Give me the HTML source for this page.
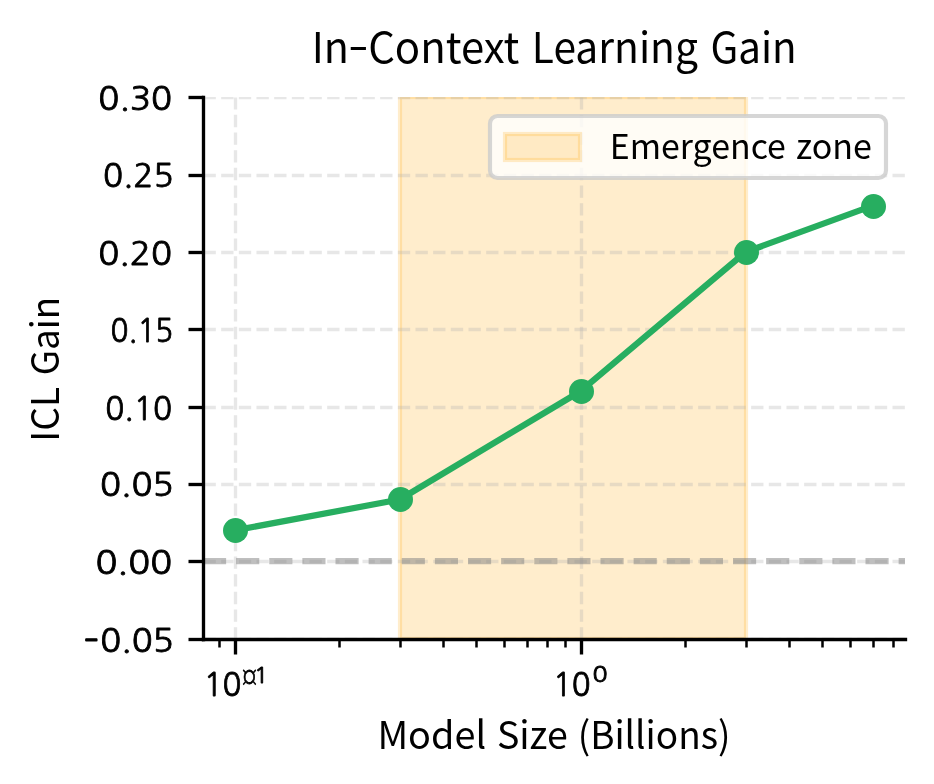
<!DOCTYPE html>
<html><head><meta charset="utf-8"><title>In-Context Learning Gain</title>
<style>html,body{margin:0;padding:0;background:#fff;}svg{display:block;}</style></head>
<body>
<svg width="934" height="784" viewBox="0 0 934 784">
<rect width="934" height="784" fill="#ffffff"/>
<defs><clipPath id="ax"><rect x="203" y="97" width="702" height="542"/></clipPath></defs>
<g clip-path="url(#ax)"><rect x="400" y="97" width="346" height="542" fill="#ffa500" fill-opacity="0.2" stroke="#ffa500" stroke-opacity="0.2" stroke-width="4.1667"/></g>
<g clip-path="url(#ax)">
<line x1="203.5" y1="97.5" x2="905.5" y2="97.5" stroke="#b0b0b0" stroke-opacity="0.3" stroke-width="3.3333" stroke-dasharray="12.333 5.333"/>
<line x1="203.5" y1="175.5" x2="905.5" y2="175.5" stroke="#b0b0b0" stroke-opacity="0.3" stroke-width="3.3333" stroke-dasharray="12.333 5.333"/>
<line x1="203.5" y1="252.5" x2="905.5" y2="252.5" stroke="#b0b0b0" stroke-opacity="0.3" stroke-width="3.3333" stroke-dasharray="12.333 5.333"/>
<line x1="203.5" y1="329.5" x2="905.5" y2="329.5" stroke="#b0b0b0" stroke-opacity="0.3" stroke-width="3.3333" stroke-dasharray="12.333 5.333"/>
<line x1="203.5" y1="407.5" x2="905.5" y2="407.5" stroke="#b0b0b0" stroke-opacity="0.3" stroke-width="3.3333" stroke-dasharray="12.333 5.333"/>
<line x1="203.5" y1="484.5" x2="905.5" y2="484.5" stroke="#b0b0b0" stroke-opacity="0.3" stroke-width="3.3333" stroke-dasharray="12.333 5.333"/>
<line x1="203.5" y1="561.5" x2="905.5" y2="561.5" stroke="#b0b0b0" stroke-opacity="0.3" stroke-width="3.3333" stroke-dasharray="12.333 5.333"/>
<line x1="203.5" y1="639.5" x2="905.5" y2="639.5" stroke="#b0b0b0" stroke-opacity="0.3" stroke-width="3.3333" stroke-dasharray="12.333 5.333"/>
<line x1="235.5" y1="639.5" x2="235.5" y2="97.5" stroke="#b0b0b0" stroke-opacity="0.3" stroke-width="3.3333" stroke-dasharray="12.333 5.333"/>
<line x1="581.5" y1="639.5" x2="581.5" y2="97.5" stroke="#b0b0b0" stroke-opacity="0.3" stroke-width="3.3333" stroke-dasharray="12.333 5.333"/>
<line x1="203" y1="561" x2="905" y2="561" stroke="#808080" stroke-opacity="0.5" stroke-width="6.25" stroke-dasharray="23.125 10"/>
</g>
<polyline points="234.66,530.40 399.70,499.47 580.57,391.20 745.61,252.01 872.90,205.61" fill="none" stroke="#27ae60" stroke-width="6.25" stroke-linejoin="round" stroke-linecap="butt"/>
<circle cx="235.5" cy="530.5" r="12.5" fill="#27ae60"/>
<circle cx="400.5" cy="499.5" r="12.5" fill="#27ae60"/>
<circle cx="581.5" cy="391.5" r="12.5" fill="#27ae60"/>
<circle cx="746.5" cy="252.5" r="12.5" fill="#27ae60"/>
<circle cx="873.5" cy="206.5" r="12.5" fill="#27ae60"/>
<line x1="203.5" y1="97.5" x2="203.5" y2="639.5" stroke="#000" stroke-width="3.3333" stroke-linecap="square"/>
<line x1="203.5" y1="639.5" x2="905.5" y2="639.5" stroke="#000" stroke-width="3.3333" stroke-linecap="square"/>
<line x1="188.5" y1="97.5" x2="203.5" y2="97.5" stroke="#000" stroke-width="3.3333"/>
<line x1="188.5" y1="175.5" x2="203.5" y2="175.5" stroke="#000" stroke-width="3.3333"/>
<line x1="188.5" y1="252.5" x2="203.5" y2="252.5" stroke="#000" stroke-width="3.3333"/>
<line x1="188.5" y1="329.5" x2="203.5" y2="329.5" stroke="#000" stroke-width="3.3333"/>
<line x1="188.5" y1="407.5" x2="203.5" y2="407.5" stroke="#000" stroke-width="3.3333"/>
<line x1="188.5" y1="484.5" x2="203.5" y2="484.5" stroke="#000" stroke-width="3.3333"/>
<line x1="188.5" y1="561.5" x2="203.5" y2="561.5" stroke="#000" stroke-width="3.3333"/>
<line x1="188.5" y1="639.5" x2="203.5" y2="639.5" stroke="#000" stroke-width="3.3333"/>
<line x1="235.5" y1="639.5" x2="235.5" y2="654.5" stroke="#000" stroke-width="3.3333"/>
<line x1="581.5" y1="639.5" x2="581.5" y2="654.5" stroke="#000" stroke-width="3.3333"/>
<line x1="219.5" y1="639.5" x2="219.5" y2="647.5" stroke="#000" stroke-width="2.5"/>
<line x1="339.5" y1="639.5" x2="339.5" y2="647.5" stroke="#000" stroke-width="2.5"/>
<line x1="400.5" y1="639.5" x2="400.5" y2="647.5" stroke="#000" stroke-width="2.5"/>
<line x1="443.5" y1="639.5" x2="443.5" y2="647.5" stroke="#000" stroke-width="2.5"/>
<line x1="476.5" y1="639.5" x2="476.5" y2="647.5" stroke="#000" stroke-width="2.5"/>
<line x1="504.5" y1="639.5" x2="504.5" y2="647.5" stroke="#000" stroke-width="2.5"/>
<line x1="527.5" y1="639.5" x2="527.5" y2="647.5" stroke="#000" stroke-width="2.5"/>
<line x1="547.5" y1="639.5" x2="547.5" y2="647.5" stroke="#000" stroke-width="2.5"/>
<line x1="565.5" y1="639.5" x2="565.5" y2="647.5" stroke="#000" stroke-width="2.5"/>
<line x1="685.5" y1="639.5" x2="685.5" y2="647.5" stroke="#000" stroke-width="2.5"/>
<line x1="746.5" y1="639.5" x2="746.5" y2="647.5" stroke="#000" stroke-width="2.5"/>
<line x1="789.5" y1="639.5" x2="789.5" y2="647.5" stroke="#000" stroke-width="2.5"/>
<line x1="822.5" y1="639.5" x2="822.5" y2="647.5" stroke="#000" stroke-width="2.5"/>
<line x1="850.5" y1="639.5" x2="850.5" y2="647.5" stroke="#000" stroke-width="2.5"/>
<line x1="873.5" y1="639.5" x2="873.5" y2="647.5" stroke="#000" stroke-width="2.5"/>
<line x1="893.5" y1="639.5" x2="893.5" y2="647.5" stroke="#000" stroke-width="2.5"/>
<g font-family="'Noto Sans CJK JP', 'Liberation Sans', sans-serif" fill="#000">
<text y="62.90" font-size="42.60"><tspan x="311.66" y="62.90" textLength="37.24" lengthAdjust="spacingAndGlyphs">In</tspan><tspan x="348.02" y="60.30" textLength="20.64" lengthAdjust="spacingAndGlyphs">-</tspan><tspan x="368.15" y="62.90" textLength="151.19" lengthAdjust="spacingAndGlyphs">Context</tspan> <tspan x="531.85" y="62.90" textLength="166.10" lengthAdjust="spacingAndGlyphs">Learning</tspan> <tspan x="710.43" y="62.90" textLength="86.18" lengthAdjust="spacingAndGlyphs">Gain</tspan></text>
<text y="748.90" font-size="38.10"><tspan x="377.41" y="748.90" textLength="108.76" lengthAdjust="spacingAndGlyphs">Model</tspan> <tspan x="496.90" y="748.90" textLength="70.95" lengthAdjust="spacingAndGlyphs">Size</tspan> <tspan x="577.66" y="748.90" textLength="152.81" lengthAdjust="spacingAndGlyphs">(Billions)</tspan></text>
<g transform="translate(58.90,440.00) rotate(-90)"><text y="0" font-size="38.10"><tspan x="-1.73" textLength="54.81" lengthAdjust="spacingAndGlyphs">ICL</tspan> <tspan x="64.69" textLength="78.47" lengthAdjust="spacingAndGlyphs">Gain</tspan></text></g>
<g font-family="NanumGothic, 'DejaVu Sans', sans-serif" stroke="#000" stroke-linejoin="round">
<text><tspan x="98.35" y="110.38" font-size="32.30" stroke-width="0.8" textLength="73.68" lengthAdjust="spacingAndGlyphs">0.30</tspan></text>
<text><tspan x="103.14" y="187.27" font-size="32.30" stroke-width="0.8" textLength="70.38" lengthAdjust="spacingAndGlyphs">0.25</tspan></text>
<text><tspan x="98.27" y="264.79" font-size="32.30" stroke-width="0.8" textLength="73.69" lengthAdjust="spacingAndGlyphs">0.20</tspan></text>
<text><tspan x="110.48" y="342.34" font-size="32.30" stroke-width="0.8" textLength="62.88" lengthAdjust="spacingAndGlyphs">0.15</tspan></text>
<text><tspan x="105.13" y="419.75" font-size="32.30" stroke-width="0.8" textLength="66.88" lengthAdjust="spacingAndGlyphs">0.10</tspan></text>
<text><tspan x="99.92" y="496.23" font-size="32.30" stroke-width="0.8" textLength="73.69" lengthAdjust="spacingAndGlyphs">0.05</tspan></text>
<text><tspan x="95.46" y="573.73" font-size="32.30" stroke-width="0.8" textLength="76.74" lengthAdjust="spacingAndGlyphs">0.00</tspan></text>
<text><tspan x="83.20" y="652.20" font-size="32.30" stroke-width="0.8" textLength="15.74" lengthAdjust="spacingAndGlyphs">-</tspan><tspan x="100.27" y="651.66" font-size="32.30" stroke-width="0.8" textLength="73.34" lengthAdjust="spacingAndGlyphs">0.05</tspan></text>
<text><tspan x="203.66" y="696.27" font-size="32.70" stroke-width="0.8" textLength="37.83" lengthAdjust="spacingAndGlyphs">10</tspan><tspan x="242.45" y="684.35" font-size="21.90" stroke-width="0.8" textLength="13.96" lengthAdjust="spacingAndGlyphs">¤</tspan><tspan x="254.09" y="682.95" font-size="21.90" stroke-width="0.8" textLength="14.36" lengthAdjust="spacingAndGlyphs">1</tspan></text>
<text><tspan x="552.91" y="696.45" font-size="32.70" stroke-width="0.8" textLength="37.72" lengthAdjust="spacingAndGlyphs">10</tspan><tspan x="592.62" y="682.28" font-size="21.90" stroke-width="0.8" textLength="15.12" lengthAdjust="spacingAndGlyphs">0</tspan></text>
</g>
</g>
<rect x="490" y="116" width="396.00" height="62.00" rx="7.5" ry="7.5" fill="#ffffff" fill-opacity="0.8" stroke="#cccccc" stroke-opacity="0.8" stroke-width="4.1667"/>
<rect x="505" y="134" width="75" height="26" fill="#ffa500" fill-opacity="0.2" stroke="#ffa500" stroke-opacity="0.2" stroke-width="4.1667"/>
<g font-family="'Noto Sans CJK JP', 'Liberation Sans', sans-serif" fill="#000"><text y="158.90" font-size="34.00"><tspan x="609.79" y="158.90" textLength="176.08" lengthAdjust="spacingAndGlyphs">Emergence</tspan> <tspan x="795.95" y="158.90" textLength="76.01" lengthAdjust="spacingAndGlyphs">zone</tspan></text></g>
</svg>
</body></html>
